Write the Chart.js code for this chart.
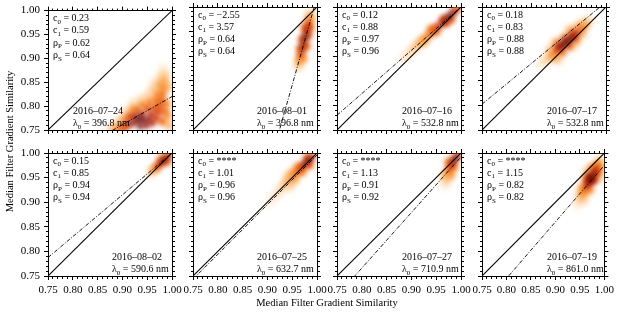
<!DOCTYPE html>
<html>
<head>
<meta charset="utf-8">
<script src="https://cdn.jsdelivr.net/npm/chart.js@4.4.1/dist/chart.umd.min.js"></script>
<style>
  html, body { margin: 0; padding: 0; background: #fff; }
  #fig { position: relative; width: 618px; height: 314px; overflow: hidden; }
  #fig canvas { position: absolute; left: 0; top: 0; }
</style>
</head>
<body>
<div id="fig"></div>
<script>
/* DADOS */
const dates   = ["2016–07–24","2016–08–01","2016–07–16","2016–07–17","2016–08–02","2016–07–25","2016–07–27","2016–07–19"];
const lambdas = ["396.8","396.8","532.8","532.8","590.6","632.7","710.9","861.0"];
const c0Text  = ["0.23","−2.55","0.12","0.18","0.15","****","****","****"];
const c1Text  = ["0.59","3.57","0.88","0.83","0.85","1.01","1.13","1.15"];
const rhoP    = ["0.62","0.64","0.97","0.88","0.94","0.96","0.91","0.82"];
const rhoS    = ["0.64","0.64","0.96","0.88","0.94","0.96","0.92","0.82"];
const fitC0   = [0.23, -2.55, 0.12, 0.18, 0.15, -0.014, -0.138, -0.175];
const fitC1   = [0.59, 3.57, 0.88, 0.83, 0.85, 1.01, 1.13, 1.15];
const axisMin = 0.75, axisMax = 1.00;
const majorTicks = [0.75, 0.80, 0.85, 0.90, 0.95, 1.00];
const axisTitle = "Median Filter Gradient Similarity";

// 2D histogram samples: [x, y, relative density]
const dens0 = [
  [0.930,0.768,1.0],[0.942,0.770,1.0],[0.952,0.772,0.92],[0.920,0.764,0.9],[0.936,0.758,0.95],[0.948,0.760,0.9],
  [0.925,0.778,0.85],[0.940,0.782,0.85],[0.958,0.782,0.8],[0.935,0.775,1.0],
  [0.910,0.760,0.75],[0.902,0.755,0.62],[0.960,0.765,0.8],[0.968,0.775,0.7],[0.972,0.788,0.66],[0.965,0.795,0.6],
  [0.950,0.795,0.6],[0.930,0.792,0.55],[0.915,0.778,0.65],[0.975,0.800,0.6],[0.978,0.812,0.55],
  [0.893,0.753,0.45],[0.905,0.772,0.4],[0.920,0.792,0.35],[0.940,0.803,0.38],[0.955,0.808,0.42],[0.968,0.812,0.45],
  [0.980,0.825,0.48],[0.982,0.838,0.4],[0.985,0.790,0.5],[0.988,0.805,0.42],[0.980,0.768,0.55],[0.990,0.780,0.35],[0.970,0.825,0.35],
  [0.883,0.752,0.25],[0.875,0.752,0.12],[0.893,0.768,0.2],[0.907,0.787,0.15],[0.922,0.805,0.15],[0.937,0.815,0.14],
  [0.952,0.822,0.18],[0.962,0.835,0.2],[0.975,0.845,0.28],[0.984,0.852,0.3],[0.986,0.865,0.18],[0.978,0.862,0.15],
  [0.965,0.850,0.1],[0.982,0.878,0.07],[0.992,0.840,0.22],[0.994,0.760,0.25]
];
const dens1 = [
  [0.976,0.938,1.0],[0.973,0.926,0.95],[0.979,0.950,0.9],[0.970,0.914,0.82],[0.982,0.961,0.75],[0.967,0.902,0.6],
  [0.984,0.971,0.5],[0.964,0.890,0.35],[0.986,0.980,0.3],[0.962,0.878,0.15],[0.988,0.988,0.12],
  [0.970,0.935,0.6],[0.982,0.942,0.6],[0.966,0.915,0.45],[0.979,0.920,0.5],[0.986,0.958,0.45],[0.975,0.958,0.5],
  [0.972,0.895,0.3]
];
const dens2 = [
  [0.985,0.990,0.85],[0.978,0.983,1.0],[0.970,0.976,0.95],[0.962,0.968,0.85],[0.953,0.960,0.72],[0.944,0.952,0.6],
  [0.935,0.943,0.45],[0.925,0.934,0.35],[0.915,0.925,0.27],[0.905,0.916,0.2],[0.895,0.906,0.13],[0.885,0.897,0.08],
  [0.992,0.996,0.5],[0.970,0.967,0.6],[0.965,0.975,0.6],[0.980,0.975,0.65],[0.950,0.950,0.4],[0.940,0.955,0.4],
  [0.925,0.930,0.25]
];
const dens3 = [
  [0.870,0.884,0.08],[0.880,0.893,0.18],[0.890,0.902,0.35],[0.900,0.911,0.6],[0.910,0.920,0.85],[0.920,0.929,1.0],
  [0.930,0.938,0.92],[0.940,0.947,0.75],[0.950,0.956,0.5],[0.958,0.964,0.3],[0.966,0.972,0.12],
  [0.915,0.925,1.0],[0.925,0.932,1.0],[0.905,0.918,0.9],[0.935,0.941,0.85],
  [0.898,0.897,0.3],[0.912,0.908,0.5],[0.926,0.920,0.55],[0.940,0.933,0.4],[0.952,0.945,0.22],
  [0.888,0.914,0.2],[0.902,0.926,0.45],[0.916,0.937,0.55],[0.930,0.950,0.4],[0.944,0.961,0.25],
  [0.905,0.892,0.1],[0.935,0.922,0.15],[0.897,0.930,0.1],[0.925,0.955,0.12],[0.955,0.972,0.08]
];
const dens4 = [
  [0.986,0.988,1.0],[0.980,0.982,0.9],[0.974,0.976,0.7],[0.992,0.994,0.7],[0.968,0.970,0.45],[0.962,0.965,0.25],
  [0.956,0.960,0.1],[0.978,0.988,0.4],[0.990,0.982,0.5]
];
const dens5 = [
  [0.989,0.991,0.75],[0.983,0.985,1.0],[0.977,0.979,0.92],[0.971,0.973,0.75],[0.964,0.966,0.6],[0.957,0.958,0.45],
  [0.949,0.950,0.35],[0.941,0.942,0.27],[0.932,0.933,0.2],[0.923,0.922,0.14],[0.913,0.910,0.08],[0.903,0.898,0.04],
  [0.962,0.972,0.35],[0.970,0.962,0.4],[0.950,0.960,0.25],[0.955,0.945,0.25],[0.940,0.952,0.15],[0.945,0.932,0.15],
  [0.980,0.990,0.6],[0.985,0.975,0.55]
];
const dens6 = [
  [0.988,0.989,1.0],[0.983,0.982,0.88],[0.993,0.995,0.7],[0.979,0.974,0.7],[0.976,0.965,0.5],[0.973,0.955,0.32],
  [0.970,0.945,0.18],[0.968,0.936,0.08],[0.986,0.972,0.45],[0.975,0.982,0.4],[0.965,0.955,0.15],[0.980,0.955,0.25]
];
const dens7 = [
  [0.945,0.895,0.06],[0.950,0.905,0.18],[0.955,0.915,0.35],[0.960,0.925,0.55],[0.966,0.935,0.8],[0.972,0.945,0.95],
  [0.977,0.955,1.0],[0.981,0.963,0.85],[0.985,0.971,0.6],[0.988,0.978,0.35],[0.991,0.986,0.15],
  [0.970,0.950,1.0],[0.975,0.945,0.95],[0.968,0.940,0.9],
  [0.962,0.946,0.55],[0.980,0.945,0.6],[0.968,0.955,0.6],[0.984,0.958,0.55],[0.955,0.930,0.3],[0.970,0.925,0.35],
  [0.990,0.965,0.3],[0.975,0.970,0.4],[0.948,0.920,0.12],[0.960,0.905,0.12],[0.992,0.950,0.15],[0.965,0.965,0.15]
];
const densities = [dens0, dens1, dens2, dens3, dens4, dens5, dens6, dens7];

/* LAYOUT */
const W = 618, H = 314;
const colLeft = [48, 193, 337, 482], rowTop = [7, 153];
const panelW = 124, panelH = 123;
const dateOffset = [25, 64, 65, 65, 64, 64, 65, 65];
const serif = '"Liberation Serif", "DejaVu Serif", serif';
const axL = 30, axR = 8, axT = 6, axB = 24;

/* COLORMAP (heat, reversed) */
const heatStops = [[0,[255,238,220]],[0.15,[254,210,160]],[0.35,[250,158,66]],[0.55,[238,102,18]],
                   [0.72,[210,50,4]],[0.87,[165,18,0]],[1,[105,4,0]]];
function heat(d){
  for(let i=1;i<heatStops.length;i++){
    if(d<=heatStops[i][0]){
      const [a,ca]=heatStops[i-1], [b,cb]=heatStops[i];
      const t=(d-a)/(b-a);
      const c=ca.map((v,k)=>Math.round(v+(cb[k]-v)*t));
      const al=Math.min(1,0.4+d*2);
      return `rgba(${c[0]},${c[1]},${c[2]},${al})`;
    }
  }
  return "rgb(105,4,0)";
}

const isMajor = v => majorTicks.some(m => Math.abs(m - v) < 1e-6);

/* TEXTO */
function drawParts(ctx, x, y, parts){
  parts.forEach(([t, sub]) => {
    ctx.font = (sub ? '7px ' : '10px ') + serif;
    ctx.fillText(t, x, sub ? y + 2.5 : y);
    x += ctx.measureText(t).width;
  });
}

const blurPlugin = {
  id: 'blur',
  beforeDatasetDraw(chart, args){
    if(chart.data.datasets[args.index].isDensity){ chart.ctx.save(); chart.ctx.filter = 'blur(2.5px)'; }
  },
  afterDatasetDraw(chart, args){
    if(chart.data.datasets[args.index].isDensity){ chart.ctx.restore(); }
  }
};

const textPlugin = {
  id: 'annot',
  afterDraw(chart){
    const i = chart.options.plugins.annot.panel;
    const ctx = chart.ctx, a = chart.chartArea;
    ctx.save();
    ctx.fillStyle = '#000';
    ctx.textBaseline = 'alphabetic';
    ctx.textAlign = 'left';
    const x0 = a.left + 5, y0 = a.top + 10.5, dy = 12.3;
    drawParts(ctx, x0, y0,        [['c',0],['0',1],[' = ' + c0Text[i],0]]);
    drawParts(ctx, x0, y0 + dy,   [['c',0],['1',1],[' = ' + c1Text[i],0]]);
    drawParts(ctx, x0, y0 + 2*dy, [['ρ',0],['P',1],[' = ' + rhoP[i],0]]);
    drawParts(ctx, x0, y0 + 3*dy, [['ρ',0],['S',1],[' = ' + rhoS[i],0]]);
    const xd = a.left + dateOffset[i];
    drawParts(ctx, xd, a.bottom - 16, [[dates[i],0]]);
    drawParts(ctx, xd, a.bottom - 4,  [['λ',0],['0',1],[' = ' + lambdas[i] + ' nm',0]]);
    if(i === 0){
      ctx.font = '10.5px ' + serif;
      ctx.textAlign = 'center';
      ctx.fillText(axisTitle, (colLeft[0] + colLeft[3] + panelW) / 2, 306);
      ctx.translate(10, (rowTop[0] + rowTop[1] + panelH) / 2);
      ctx.rotate(-Math.PI / 2);
      ctx.textBaseline = 'middle';
      ctx.fillText(axisTitle, 0, 0);
    }
    ctx.restore();
  }
};

function makeScale(position, showLabels, size){
  const outerFirst = (position === 'left' || position === 'top');
  return {
    type: 'linear', position, min: axisMin, max: axisMax,
    afterFit(s){ if(position==='left'||position==='right') s.width = size; else s.height = size; },
    border: { display: true, color: '#000', width: 1 },
    grid: {
      drawOnChartArea: false, drawTicks: true, tickLength: 4, tickColor: '#000', tickWidth: 1,
      tickBorderDash: c => isMajor(c.tick.value) ? [] : (outerFirst ? [0, 2, 2, 10] : [2, 10])
    },
    ticks: {
      display: showLabels, stepSize: 0.01, maxTicksLimit: 40, autoSkip: false, maxRotation: 0, minRotation: 0,
      padding: 4,
      color: '#000', font: { family: serif, size: 11 },
      callback: v => isMajor(v) ? (Math.round(v * 100) / 100).toFixed(2) : ''
    }
  };
}

const fig = document.getElementById('fig');
for(let i = 0; i < 8; i++){
  const col = i % 4, row = Math.floor(i / 4);
  const L = colLeft[col], T = rowTop[row];
  const cv = document.createElement('canvas');
  cv.width = W; cv.height = H;
  fig.appendChild(cv);

  const pts = densities[i].map(p => ({x: p[0], y: p[1], d: p[2]})).sort((a, b) => a.d - b.d);
  new Chart(cv, {
    type: 'scatter',
    data: {
      datasets: [
        { data: [{x: axisMin, y: fitC0[i] + fitC1[i]*axisMin}, {x: axisMax, y: fitC0[i] + fitC1[i]*axisMax}],
          showLine: true, borderColor: '#000', borderWidth: 0.9, borderDash: [4, 1.6, 1, 1.6],
          pointRadius: 0, clip: 0, order: 1 },
        { data: [{x: axisMin, y: axisMin}, {x: axisMax, y: axisMax}],
          showLine: true, borderColor: '#000', borderWidth: 1.1, pointRadius: 0, clip: 0, order: 2 },
        { data: pts, isDensity: true, clip: 0, order: 3,
          pointBorderWidth: 0, pointBorderColor: 'rgba(0,0,0,0)',
          pointRadius: c => c.raw ? 3 + 2.5 * (1 - c.raw.d) : 0,
          pointBackgroundColor: c => c.raw ? heat(c.raw.d) : 'rgba(0,0,0,0)' }
      ]
    },
    options: {
      responsive: false, animation: false, events: [],
      layout: { autoPadding: false, padding: {
        left: L - axL, top: T - axT, right: W - (L + panelW) - axR, bottom: H - (T + panelH) - axB } },
      plugins: { legend: { display: false }, tooltip: { enabled: false }, annot: { panel: i } },
      scales: {
        x:  makeScale('bottom', row === 1, axB),
        y:  makeScale('left', col === 0, axL),
        x2: Object.assign(makeScale('top', false, axT), { axis: 'x' }),
        y2: Object.assign(makeScale('right', false, axR), { axis: 'y' })
      }
    },
    plugins: [blurPlugin, textPlugin]
  });
}
</script>
</body>
</html>
